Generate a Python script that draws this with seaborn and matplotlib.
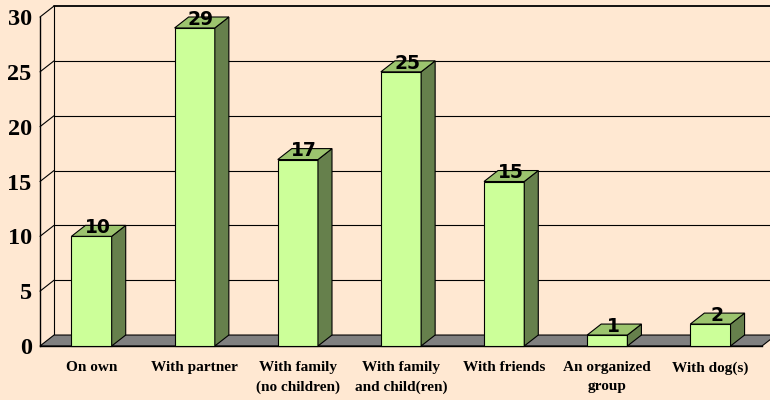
import matplotlib
matplotlib.use("Agg")
import matplotlib.pyplot as plt
from matplotlib.patches import Polygon
import pandas as pd
import seaborn as sns

# data
categories = ["On own", "With partner", "With family\n(no children)",
              "With family\nand child(ren)", "With friends",
              "An organized\ngroup", "With dog(s)"]
counts = [10, 29, 17, 25, 15, 1, 2]
y_ticks = [0, 5, 10, 15, 20, 25, 30]

# colours
bg = "#FFE8D2"
front_col = "#CCFF99"
side_col = "#66804C"
top_col = "#9CC46E"
floor_col = "#808080"

df = pd.DataFrame({"who": categories, "n": counts})

sns.set_style("white")
plt.rcParams["text.color"] = "black"
fig = plt.figure(figsize=(7.7, 4.0), dpi=100, facecolor=bg)
ax = fig.add_axes([40 / 770, 54 / 400, 722 / 770, 329 / 400])
ax.set_facecolor(bg)

sns.barplot(data=df, x="who", y="n", color=front_col, width=0.39,
            edgecolor="black", linewidth=0.8, saturation=1, ax=ax, zorder=3)

n = len(categories)
x0, x1 = -0.5, n - 0.5
y_max = y_ticks[-1]
ax.set_xlim(x0, x1)
ax.set_ylim(0, y_max)

# depth offset of the 3d look, in data units
ddx, ddy = 0.136, 1.0

# back wall grid lines + diagonals on the left wall
for v in y_ticks[1:]:
    lw = 1.3 if v == y_max else 0.8
    ax.plot([x0 + ddx, x1 + ddx], [v + ddy, v + ddy], color="black", lw=lw,
            zorder=0.5, clip_on=False)
    ax.plot([x0, x0 + ddx], [v, v + ddy], color="black", lw=0.8,
            zorder=0.5, clip_on=False)
ax.plot([x0 + ddx, x0 + ddx], [ddy, y_max + ddy], color="black", lw=0.8,
        zorder=0.5, clip_on=False)

# floor
floor = Polygon([(x0, 0), (x1, 0), (x1 + ddx, ddy), (x0 + ddx, ddy)],
                closed=True, facecolor=floor_col, edgecolor="black", lw=0.8,
                zorder=1, clip_on=False)
ax.add_patch(floor)

# side and top faces from the seaborn bars
for bar, val in zip(ax.patches[:n], counts):
    bx = bar.get_x()
    bw = bar.get_width()
    bh = bar.get_height()
    bar.set_clip_on(False)
    side = Polygon([(bx + bw, 0), (bx + bw + ddx, ddy), (bx + bw + ddx, bh + ddy), (bx + bw, bh)],
                   closed=True, facecolor=side_col, edgecolor="black", lw=0.8,
                   zorder=3, clip_on=False)
    top = Polygon([(bx, bh), (bx + bw, bh), (bx + bw + ddx, bh + ddy), (bx + ddx, bh + ddy)],
                  closed=True, facecolor=top_col, edgecolor="black", lw=0.8,
                  zorder=3, clip_on=False)
    ax.add_patch(side)
    ax.add_patch(top)
    ax.text(bx + bw / 2 + ddx * 0.45, bh + 0.3, str(val), ha="center", va="baseline",
            fontsize=13.5, fontweight="bold", family="DejaVu Sans", color="black", zorder=5)

# axes styling
for s in ["top", "right"]:
    ax.spines[s].set_visible(False)
for s in ["left", "bottom"]:
    ax.spines[s].set_color("black")
    ax.spines[s].set_linewidth(1.0)
    ax.spines[s].set_zorder(2)

ax.set_xlabel("")
ax.set_ylabel("")
ax.set_yticks(y_ticks)
ax.set_yticklabels([str(t) for t in y_ticks], fontsize=17.5, fontweight="bold",
                   family="Liberation Serif", color="black")
ax.tick_params(axis="y", direction="out", length=4, width=0.8, pad=2, color="black")

ax.set_xticks(range(n))
ax.set_xticklabels(categories, fontsize=11, fontweight="bold",
                   family="Liberation Serif", linespacing=1.6, color="black")
ax.tick_params(axis="x", which="major", length=0, pad=11)
ax.set_xticks([i - 0.5 for i in range(1, n + 1)], minor=True)
ax.tick_params(axis="x", which="minor", direction="out", length=4, width=0.8, color="black")

fig.savefig("out.png", dpi=100, facecolor=bg)
